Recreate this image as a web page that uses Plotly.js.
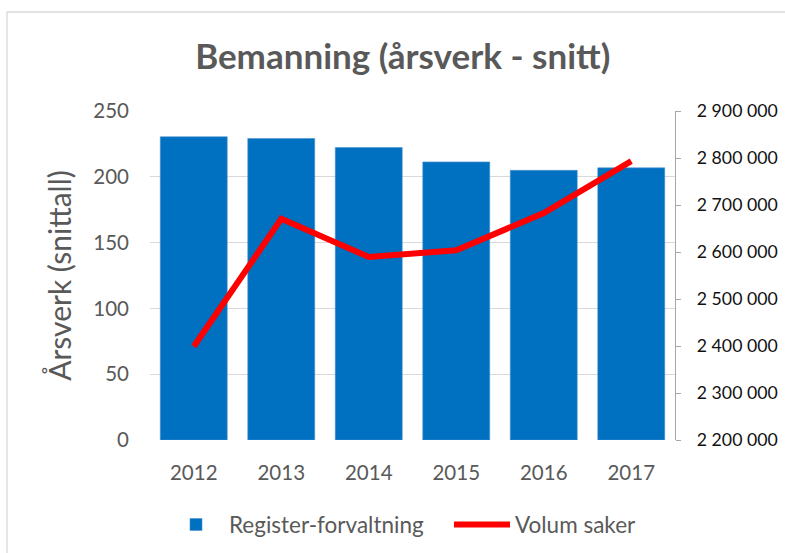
<!DOCTYPE html>
<html>
<head>
<meta charset="utf-8">
<script src="https://cdn.plot.ly/plotly-3.0.1.min.js"></script>
<style>html,body{margin:0;padding:0;background:#fff;}#chart{width:785px;height:553px;}</style>
</head>
<body>
<div id="chart"></div>
<script>
const years = ['2012', '2013', '2014', '2015', '2016', '2017'];
const arsverk = [230.4, 229.1, 222.2, 211.3, 204.9, 206.8];
const volumSaker = [2399000, 2670600, 2589500, 2603700, 2683000, 2793500];
const leftTicks = [0, 50, 100, 150, 200, 250];
const rightTicks = [2200000, 2300000, 2400000, 2500000, 2600000, 2700000, 2800000, 2900000];

const FONT = 'Lato, "Open Sans", sans-serif';
const GRAY = '#595959';

const traces = [
  {
    type: 'bar', x: years, y: arsverk, name: 'Register-forvaltning',
    marker: {color: '#0070C0', line: {color: '#4A90D0', width: 0.6}},
    legendwidth: 215,
    hoverinfo: 'x+y'
  },
  {
    type: 'scatter', mode: 'lines', x: years, y: volumSaker, name: 'Volum saker',
    yaxis: 'y2', line: {color: '#FF0000', width: 6}
  }
];

const layout = {
  width: 785, height: 553,
  margin: {l: 150, r: 110, t: 111, b: 113, autoexpand: false},
  paper_bgcolor: '#fff', plot_bgcolor: '#fff',
  separators: ', ',
  font: {family: FONT, color: GRAY, size: 16},
  title: {text: '<b>Bemanning (årsverk - snitt)</b>', x: 0.513, xref: 'container', xanchor: 'center',
          y: 1 - 57/553, yref: 'container', yanchor: 'middle',
          font: {family: FONT, size: 35, color: GRAY}},
  bargap: 0.235,
  showlegend: true,
  legend: {orientation: 'h', x: (163 - 150)/525, xanchor: 'left', y: -0.258, yanchor: 'middle',
           font: {family: FONT, size: 22.5, color: GRAY}, itemwidth: 56, traceorder: 'normal'},
  xaxis: {type: 'category', showgrid: false, zeroline: false, showline: false, ticks: '',
          ticklabelstandoff: 18, tickfont: {family: FONT, size: 20.5, color: GRAY}},
  yaxis: {range: [0, 250], tickvals: leftTicks, showgrid: true, gridcolor: '#D9D9D9', gridwidth: 1.3,
          zeroline: false, showline: false, ticks: '', ticklabelstandoff: 20,
          tickfont: {family: FONT, size: 20.5, color: GRAY},
          title: {text: 'Årsverk (snittall)', standoff: 12, font: {family: FONT, size: 30, color: GRAY}}},
  yaxis2: {overlaying: 'y', side: 'right', range: [2200000, 2900000], tickvals: rightTicks,
           tickformat: ',d', showgrid: false, zeroline: false, showline: true, linecolor: '#A6A6A6',
           linewidth: 1.3, ticks: 'outside', ticklen: 5, tickcolor: '#A6A6A6', ticklabelstandoff: 12,
           tickfont: {family: FONT, size: 17.7, color: '#111'}},
  shapes: [
    {type: 'rect', xref: 'paper', yref: 'paper', x0: (7-150)/525, x1: 1.4, y0: -0.5, y1: (440-12)/329,
     line: {color: '#D9D9D9', width: 1.3}, fillcolor: 'rgba(0,0,0,0)', layer: 'below'}
  ]
};

Plotly.newPlot('chart', traces, layout, {displayModeBar: false, staticPlot: true});
</script>
</body>
</html>
